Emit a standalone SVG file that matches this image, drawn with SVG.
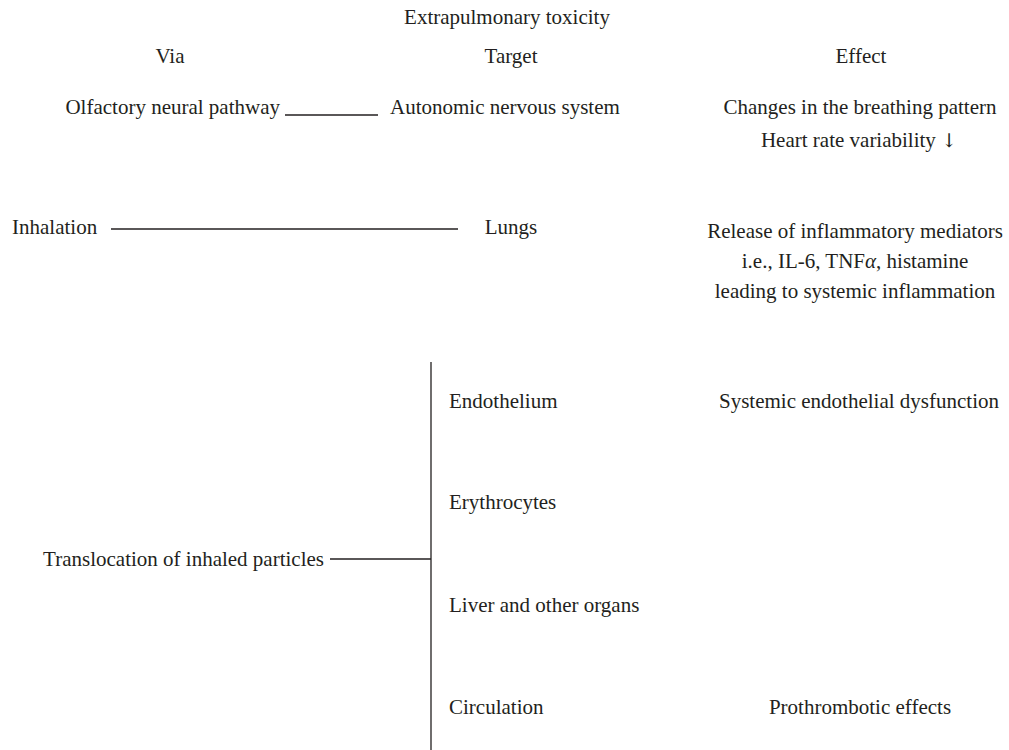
<svg xmlns="http://www.w3.org/2000/svg" width="1009" height="750" viewBox="0 0 1009 750">
<style>
text{font-family:"Liberation Serif","DejaVu Serif",serif;font-size:21px;fill:#231f20}
.m{text-anchor:middle}.e{text-anchor:end}
.ln{stroke:#231f20;stroke-width:1.3;fill:none}
</style>
<rect width="1009" height="750" fill="#fff"/>
<g id="headers">
<text class="m" x="507" y="24">Extrapulmonary toxicity</text>
<text class="m" x="170" y="63">Via</text>
<text class="m" x="511" y="63">Target</text>
<text class="m" x="861" y="63">Effect</text>
</g>
<g id="connectors">
<line class="ln" x1="285" y1="115" x2="378" y2="115"/>
<line class="ln" x1="111" y1="229" x2="458" y2="229"/>
<line class="ln" x1="330" y1="559" x2="431" y2="559"/>
<line class="ln" x1="431" y1="362" x2="431" y2="750"/>
</g>
<g id="olfactory"><text class="e" x="280" y="114">Olfactory neural pathway</text></g>
<g id="autonomic"><text x="390" y="114">Autonomic nervous system</text></g>
<g id="effect-breathing"><text class="m" x="860" y="114">Changes in the breathing pattern</text>
<text class="m" x="859" y="147">Heart rate variability <tspan font-family="DejaVu Serif" font-size="19">↓</tspan></text></g>
<g id="inhalation"><text x="12" y="234">Inhalation</text></g>
<g id="lungs"><text class="m" x="511" y="234">Lungs</text></g>
<g id="effect-inflammation">
<text class="m" x="855" y="238">Release of inflammatory mediators</text>
<text class="m" x="855" y="268">i.e., IL-6, TNF<tspan font-style="italic">α</tspan>, histamine</text>
<text class="m" x="855" y="298">leading to systemic inflammation</text>
</g>
<g id="translocation"><text class="e" x="324" y="566">Translocation of inhaled particles</text></g>
<g id="endothelium"><text x="449" y="408">Endothelium</text></g>
<g id="erythrocytes"><text x="449" y="509">Erythrocytes</text></g>
<g id="liver"><text x="449" y="612">Liver and other organs</text></g>
<g id="circulation"><text x="449" y="714">Circulation</text></g>
<g id="effect-endothelial"><text class="m" x="859" y="408">Systemic endothelial dysfunction</text></g>
<g id="effect-prothrombotic"><text class="m" x="860" y="714">Prothrombotic effects</text></g>
</svg>
